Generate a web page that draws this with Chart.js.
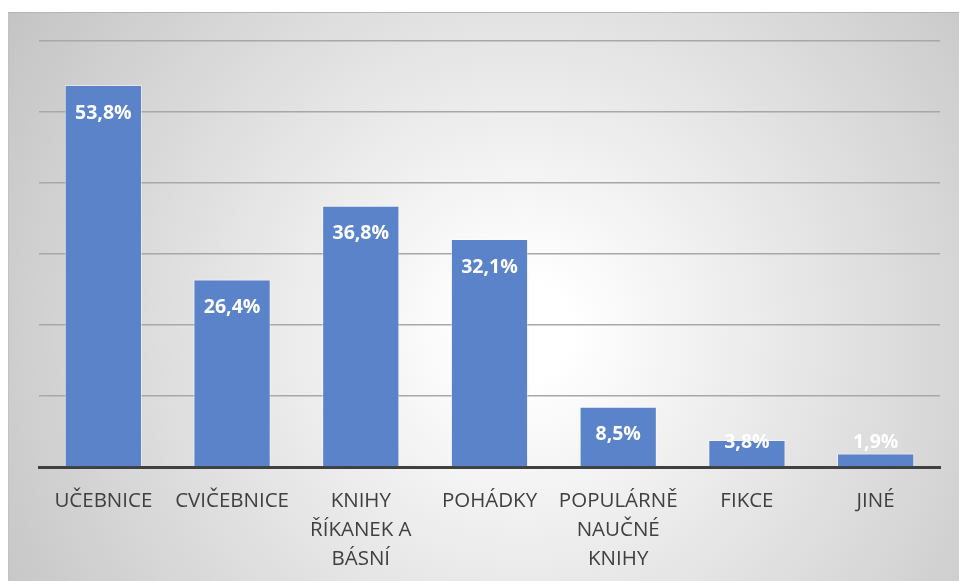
<!DOCTYPE html>
<html>
<head>
<meta charset="utf-8">
<script src="https://cdn.jsdelivr.net/npm/chart.js@4/dist/chart.umd.min.js"></script>
<style>
  html, body { margin: 0; padding: 0; background: #ffffff; width: 959px; height: 581px; overflow: hidden; }
  #bg {
    position: absolute; left: 8px; top: 12px; width: 951px; height: 569px; box-sizing: border-box;
    border-top: 1px solid #b4b4b4; border-left: 1px solid #c2c2c2;
    background: radial-gradient(circle farthest-corner at 54% 56%, #ffffff 0%, #ffffff 8%, #c4c4c4 100%);
  }
  #wrap { position: absolute; left: 0; top: 0; width: 959px; height: 581px; }
</style>
</head>
<body>
<div id="bg"></div>
<div id="wrap"><canvas id="c" width="959" height="581"></canvas></div>
<script>
const categories = [
  ["UČEBNICE"],
  ["CVIČEBNICE"],
  ["KNIHY", "ŘÍKANEK A", "BÁSNÍ"],
  ["POHÁDKY"],
  ["POPULÁRNĚ", "NAUČNÉ", "KNIHY"],
  ["FIKCE"],
  ["JINÉ"]
];
const values = [53.8, 26.4, 36.8, 32.1, 8.5, 3.8, 1.9];
const valueLabels = ["53,8%", "26,4%", "36,8%", "32,1%", "8,5%", "3,8%", "1,9%"];
const yTicks = [0, 10, 20, 30, 40, 50, 60];

const labelPlugin = {
  id: 'valueLabels',
  afterDatasetsDraw(chart) {
    const ctx = chart.ctx;
    const meta = chart.getDatasetMeta(0);
    ctx.save();
    ctx.font = 'bold 19.5px "Open Sans"';
    ctx.fillStyle = '#ffffff';
    ctx.textAlign = 'center';
    ctx.textBaseline = 'middle';
    meta.data.forEach((el, i) => {
      const y = Math.min(el.y + 28, el.base - 24);
      ctx.fillText(valueLabels[i], el.x, y);
    });
    ctx.restore();
  }
};

new Chart(document.getElementById('c'), {
  type: 'bar',
  data: {
    labels: categories,
    datasets: [{
      data: values,
      backgroundColor: '#5b83c9',
      borderColor: 'rgba(255,255,255,0.45)',
      borderWidth: 1,
      categoryPercentage: 1,
      barPercentage: 0.6
    }]
  },
  options: {
    responsive: false,
    animation: false,
    devicePixelRatio: 1,
    layout: { padding: { left: 39, right: 19, top: 41, bottom: 0 } },
    plugins: { legend: { display: false }, tooltip: { enabled: false } },
    scales: {
      x: {
        grid: { display: false, drawTicks: false },
        border: { display: true, color: '#404040', width: 3 },
        ticks: {
          color: '#404040',
          font: { family: '"Open Sans"', size: 20.5, lineHeight: 1.43 },
          padding: 19,
          maxRotation: 0,
          autoSkip: false
        },
        afterFit(scale) { scale.height = 114; }
      },
      y: {
        min: 0, max: 60,
        afterBuildTicks(scale) { scale.ticks = yTicks.map(v => ({ value: v })); },
        grid: { color: '#a8a8a8', lineWidth: 1.5, drawTicks: false },
        border: { display: false },
        ticks: { display: false }
      }
    }
  },
  plugins: [labelPlugin]
});
</script>
</body>
</html>
